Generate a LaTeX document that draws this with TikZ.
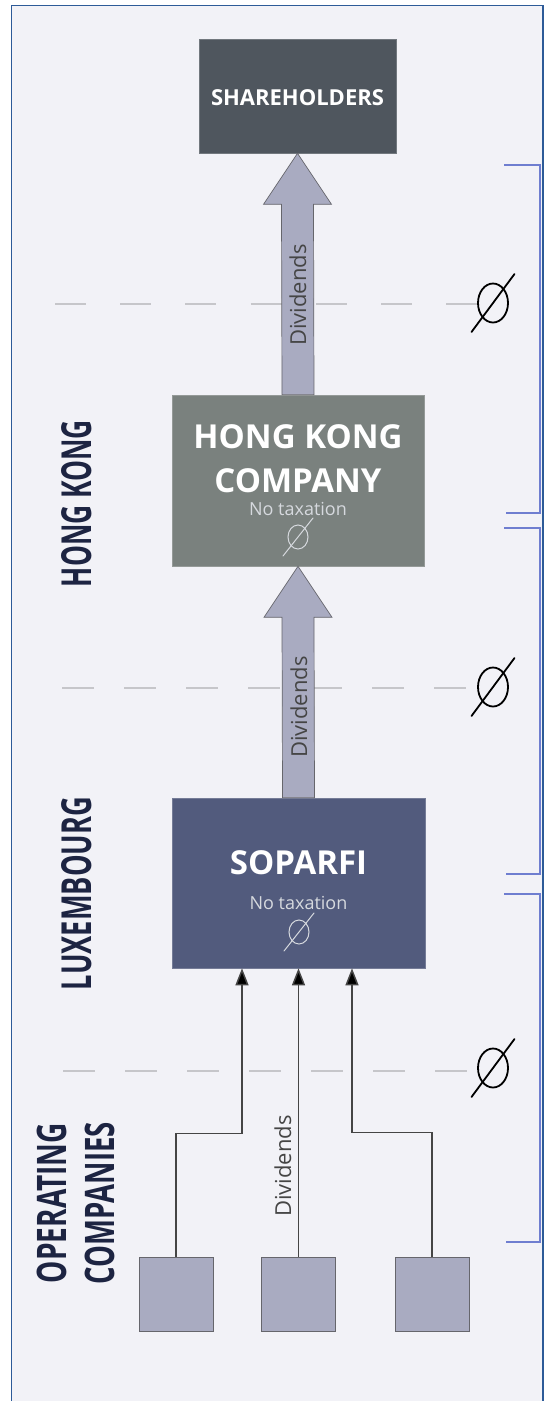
\documentclass[tikz,border=0pt]{standalone}
\usepackage{fontspec}
\setmainfont{Open Sans}
\usetikzlibrary{calc,arrows.meta}

\definecolor{panel}{HTML}{F2F2F7}
\definecolor{frame}{HTML}{2D5B98}
\definecolor{bracket}{HTML}{6F7ED0}
\definecolor{shbox}{HTML}{4F565E}
\definecolor{hkbox}{HTML}{7A817E}
\definecolor{lxbox}{HTML}{525B7D}
\definecolor{flow}{HTML}{A9ABC1}
\definecolor{flowedge}{HTML}{66666C}
\definecolor{region}{HTML}{1D2442}
\definecolor{guide}{HTML}{C6C6CA}
\definecolor{note}{HTML}{D6D9DE}
\definecolor{ink}{HTML}{454545}

% block arrow from the top of one box (#1) up to the bottom of another (#2)
\newcommand\flowarrow[2]{%
  \draw[bigflow] (#2) -- ($(#2)+(34,51)$) -- ($(#2)+(16,51)$) -- ($(#1)+(16,0)$)
    -- ($(#1)+(-16,0)$) -- ($(#2)+(-16,51)$) -- ($(#2)+(-34,51)$) -- cycle;}
% "no tax" mark: upright ellipse crossed by a long slash
% #1 centre, #2/#3 radii, #4/#5 slash half-extent, #6 style
\newcommand\nullmark[6]{%
  \draw[#6] (#1) ellipse[x radius=#2, y radius=#3];
  \draw[#6,line cap=round] ($(#1)+(-#4,#5)$) -- ($(#1)+(#4,-#5)$);}

\begin{document}
\begin{tikzpicture}[x=1pt,y=-1pt,
  entity/.style={rectangle,inner sep=0pt,draw=#1!80!white,line width=0.6pt,fill=#1},
  bigflow/.style={fill=flow,draw=flowedge,line width=0.7pt,line join=miter},
  feed/.style={draw=ink,line width=1.5pt,-{Triangle[length=17pt,width=13pt,fill=black]}},
  guideline/.style={draw=guide,line width=1.2pt,dash pattern=on 32pt off 30pt},
  brk/.style={draw=bracket,line width=1.6pt},
  title/.style={text=white,font=\bfseries\fontsize{33}{40}\selectfont,anchor=base,inner sep=0pt},
  notax/.style={text=note,font=\fontsize{18}{22}\selectfont,anchor=base,inner sep=0pt},
  divtext/.style={text=ink,font=\fontsize{22}{26}\selectfont,anchor=base,rotate=90,inner sep=0pt},
  regionlabel/.style={text=region,rotate=90,inner sep=0pt,font=\bfseries}]

\useasboundingbox (0,0) rectangle (546,1401);
\fill[white] (0,0) rectangle (546,1401);
\fill[panel] (11.5,5.5) rectangle (543,1401);
\draw[frame,line width=1.2pt] (11.5,1402) -- (11.5,5.5) -- (543,5.5) -- (543,1402);

% tax-level guide lines
\draw[guideline,line width=1.8pt,dash pattern=on 31pt off 34.2pt] (55,304) -- (477,304);
\draw[guideline] (62,688) -- (470,688);
\draw[guideline] (63,1071) -- (467,1071);

% entities
\node[entity=shbox,minimum width=197pt,minimum height=114pt] (sh) at (297.5,96) {};
\node[entity=hkbox,minimum width=252pt,minimum height=171pt] (hk) at (298,480.5) {};
\node[entity=lxbox,minimum width=253pt,minimum height=170pt] (sop) at (298.5,883) {};
\node[entity=flow,draw=flowedge,minimum width=74pt,minimum height=74pt] (c1) at (176,1294) {};
\node[entity=flow,draw=flowedge,minimum width=74pt,minimum height=74pt] (c2) at (298.5,1294) {};
\node[entity=flow,draw=flowedge,minimum width=74pt,minimum height=74pt] (c3) at (432,1294) {};

% dividend flows
\flowarrow{hk.north}{sh.south}
\flowarrow{sop.north}{hk.south}
\draw[feed] (c1.north) -- ++(0,-123) -| ($(sop.south)+(-56.5,0)$);
\draw[feed] (c2.north) -- (c2.north |- sop.south);
\draw[feed] (c3.north) -- ++(0,-124) -| ($(sop.south)+(53.5,0)$);

% box texts
\node[title,font=\bfseries\fontsize{22}{26}\selectfont] (shname) at (297.5,105) {SHAREHOLDERS};
\node[title] (hkname1) at (298,448) {HONG KONG};
\node[title] (hkname2) at (298,492) {COMPANY};
\node[notax] (hknote) at (298,515) {No taxation};
\nullmark{298,537}{10}{12}{15}{19}{note,line width=1pt}
\node[title] (sopname) at (298.5,874) {SOPARFI};
\node[notax] (sopnote) at (298.5,909) {No taxation};
\nullmark{299,932}{10}{12}{15}{19}{note,line width=1pt}

% flow labels
\node[divtext] (d1) at (306,295) {Dividends};
\node[divtext] (d2) at (307,707) {Dividends};
\node[divtext] (d3) at (291,1166) {Dividends};

% tax marks at each level
\nullmark{493,303}{15}{19.5}{21.5}{29}{black,line width=1.8pt}
\nullmark{493,687}{15}{19.5}{21.5}{29}{black,line width=1.8pt}
\nullmark{493,1068}{15}{19.5}{21.5}{29}{black,line width=1.8pt}

% jurisdiction brackets
\draw[brk] (504,165) -- (540,165) -- (540,513) -- (506,513);
\draw[brk] (504,528) -- (540,528) -- (540,874) -- (506,874);
\draw[brk] (504,894) -- (540,894) -- (540,1242) -- (506,1242);

% jurisdiction labels
\node[regionlabel] (lhk) at (77,503.5) {\resizebox{167pt}{30pt}{HONG KONG}};
\node[regionlabel] (llu) at (77,893.5) {\resizebox{193pt}{30pt}{LUXEMBOURG}};
\node[regionlabel] (lop1) at (52.3,1203) {\resizebox{160pt}{29.5pt}{OPERATING}};
\node[regionlabel] (lop2) at (100,1203) {\resizebox{162pt}{29.5pt}{COMPANIES}};
\end{tikzpicture}
\end{document}
